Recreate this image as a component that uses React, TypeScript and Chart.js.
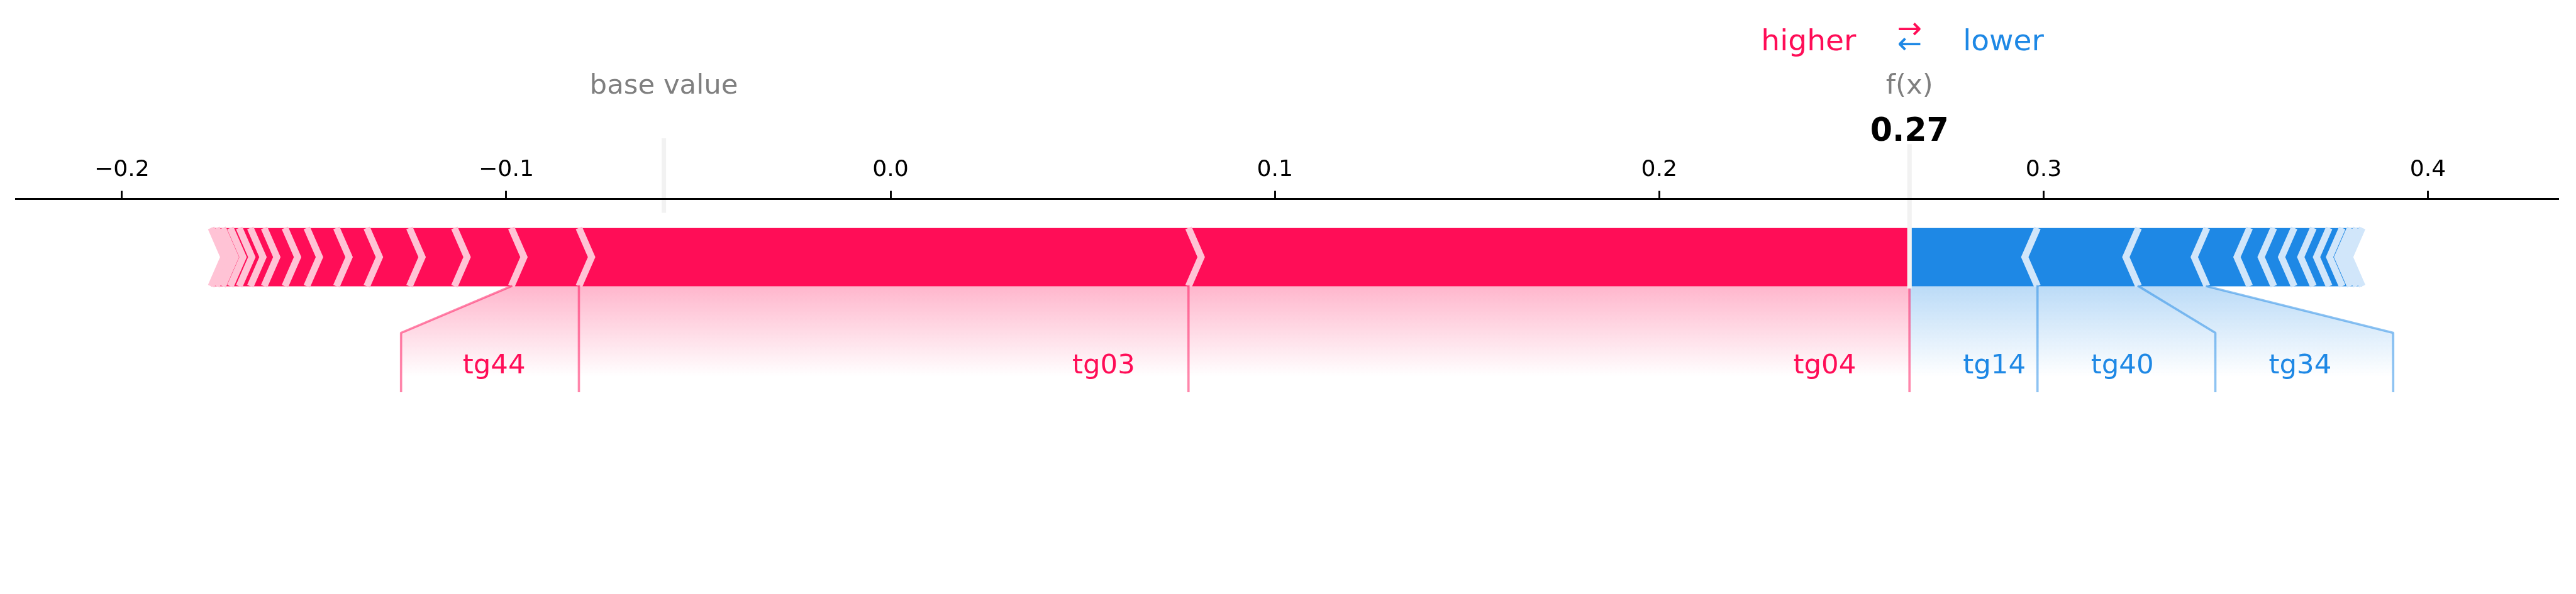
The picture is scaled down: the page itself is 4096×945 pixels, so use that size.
import React, { useEffect, useRef } from "react";
import { Chart, registerables } from "chart.js";

Chart.register(...registerables);

// ---------- data ----------
const OUT_VALUE = 0.2651;
const POS_LABELS = ["tg04", "tg03", "tg44"];
const POS_EFFECTS = [0.1876, 0.1586, 0.0176, 0.0148, 0.0117, 0.0111, 0.0079, 0.0077, 0.0057, 0.0054, 0.0036, 0.0029, 0.0023, 0.002, 0.0016, 0.0014];
const NEG_LABELS = ["tg14", "tg40", "tg34"];
const NEG_EFFECTS = [0.0333, 0.0263, 0.0178, 0.0111, 0.0063, 0.0053, 0.005, 0.0041, 0.0034, 0.0021, 0.0016, 0.0015];
const TICK_VALUES = [-0.2, -0.1, 0.0, 0.1, 0.2, 0.3, 0.4];

// ---------- layout ----------
const S = 0.869;
const WIDTH = 4096;
const HEIGHT = 945;
const X_MIN = -0.2276;
const X_MAX = 0.434;
const Y_MIN = -0.5;
const Y_MAX = 0.15;
const OFFSET_TEXT = 0.0139;
const BAR_TOP = 0.1;
const AXIS_H = 80;

const RED = "#FF0D57";
const RED_LIGHT = "#FFC3D5";
const BLUE = "#1E88E5";
const BLUE_LIGHT = "#D1E6FA";
const FONT = '"DejaVu Sans", sans-serif';

const TICK_FONT = 41.67 * S;
const LABEL_FONT = 50 * S;
const OUT_FONT = 58.33 * S;
const HL_FONT = 54.17 * S;
const SEP_LW = 12.5 * S;
const CONN_LW = 4.167 * S;
const ELEM_LW = 8.33 * S;
const SPINE_LW = 3.33 * S;
const TICK_LEN = 14.58 * S;
const BOX_PAD = 15 * S;

function cumulative(effects: number[], sign: number): number[] {
  const b = [OUT_VALUE];
  let v = OUT_VALUE;
  for (const e of effects) {
    v = v - sign * e;
    b.push(v);
  }
  return b;
}
const POS_BOUNDS = cumulative(POS_EFFECTS, 1);
const NEG_BOUNDS = cumulative(NEG_EFFECTS, -1);
const sum = (a: number[]) => a.reduce((s, v) => s + v, 0);
const BASE_VALUE = OUT_VALUE - sum(POS_EFFECTS) + sum(NEG_EFFECTS);

function tracePath(ctx: any, pts: number[][], close: boolean) {
  ctx.beginPath();
  pts.forEach(([x, y], i) => (i ? ctx.lineTo(x, y) : ctx.moveTo(x, y)));
  if (close) ctx.closePath();
}

function drawBars(ctx: any, px: any, py: any, bounds: number[], sign: number, fill: string, sepColor: string) {
  const ind = (sign * (X_MAX - X_MIN)) / 200;
  const top = BAR_TOP;
  const mid = BAR_TOP / 2;
  const polys: number[][][] = [];
  const seps: number[][][] = [];
  for (let i = 0; i < bounds.length - 1; i++) {
    const left = sign > 0 ? bounds[i + 1] : bounds[i];
    const right = sign > 0 ? bounds[i] : bounds[i + 1];
    let pts: number[][];
    if (i === 0) {
      pts = sign > 0
        ? [[left, 0], [right, 0], [right, top], [left, top], [left + ind, mid]]
        : [[right, 0], [left, 0], [left, top], [right, top], [right + ind, mid]];
    } else {
      pts = [[left, 0], [right, 0], [right + ind * 0.9, mid], [right, top], [left, top], [left + ind * 0.9, mid]];
    }
    polys.push(pts.map(([x, y]) => [px(x), py(y)]));
    const sp = sign > 0 ? left : right;
    seps.push([[sp, 0], [sp + ind, mid], [sp, top]].map(([x, y]) => [px(x), py(y)]));
  }
  ctx.fillStyle = fill;
  polys.forEach((p) => {
    tracePath(ctx, p, true);
    ctx.fill();
  });
  ctx.strokeStyle = sepColor;
  ctx.lineWidth = SEP_LW;
  ctx.lineJoin = "miter";
  ctx.lineCap = "butt";
  seps.forEach((p) => {
    tracePath(ctx, p, false);
    ctx.stroke();
  });
}

function computeLabels(chart: any, sign: number, bounds: number[], labels: string[]) {
  const { ctx } = chart;
  const xs = chart.scales.x;
  const ys = chart.scales.y;
  const px = (v: number) => xs.getPixelForValue(v);
  const py = (v: number) => ys.getPixelForValue(v);
  const out = px(OUT_VALUE);
  const off = px(OUT_VALUE + OFFSET_TEXT) - out;
  const y0 = py(0), y08 = py(-0.08), y18 = py(-0.18), y20 = py(-0.2);
  let start = out;
  let boxEnd = out;
  let preVal = out;
  const texts: any[] = [];
  const lines: number[][][] = [];
  if (sign > 0) lines.push([[out, y0], [out, y18]]);
  ctx.save();
  ctx.font = `${LABEL_FONT}px ${FONT}`;
  for (let i = 0; i < labels.length; i++) {
    const val = px(bounds[i + 1]);
    const tx = start - sign * off;
    const w = ctx.measureText(labels[i]).width;
    texts.push({ text: labels[i], x: tx, y: py(-0.15), align: sign > 0 ? "right" : "left" });
    const edge = sign > 0 ? tx - w - BOX_PAD : tx + w + BOX_PAD;
    if (sign * edge > sign * val) {
      lines.push([[val, y0], [val, y18]]);
      start = val;
      boxEnd = val;
    } else {
      boxEnd = edge - sign * off;
      lines.push([[val, y0], [boxEnd, y08], [boxEnd, y18]]);
      start = boxEnd;
    }
    preVal = val;
  }
  ctx.restore();
  const shade = [[out, y0], [preVal, y0], [boxEnd, y08], [boxEnd, y20], [out, y20]];
  return { texts, lines, shade };
}

const forcePlugin = {
  id: "forcePlot",
  beforeDraw(chart: any) {
    const { ctx } = chart;
    const xs = chart.scales.x;
    const ys = chart.scales.y;
    const px = (v: number) => xs.getPixelForValue(v);
    const py = (v: number) => ys.getPixelForValue(v);
    const pos = computeLabels(chart, 1, POS_BOUNDS, POS_LABELS);
    const neg = computeLabels(chart, -1, NEG_BOUNDS, NEG_LABELS);
    chart.$force = { pos, neg };
    ctx.save();
    // shading
    [
      [pos, "255,13,87"],
      [neg, "30,136,229"],
    ].forEach(([side, rgb]: any) => {
      const g = ctx.createLinearGradient(0, py(0), 0, py(-0.155));
      g.addColorStop(0, `rgba(${rgb},0.3)`);
      g.addColorStop(1, `rgba(${rgb},0)`);
      ctx.fillStyle = g;
      tracePath(ctx, side.shade, true);
      ctx.fill();
    });
    // bars
    drawBars(ctx, px, py, POS_BOUNDS, 1, RED, RED_LIGHT);
    drawBars(ctx, px, py, NEG_BOUNDS, -1, BLUE, BLUE_LIGHT);
    // connector lines
    ctx.lineWidth = CONN_LW;
    ctx.lineCap = "square";
    ctx.lineJoin = "round";
    ctx.strokeStyle = "rgba(255,13,87,0.5)";
    pos.lines.forEach((l: number[][]) => {
      tracePath(ctx, l, false);
      ctx.stroke();
    });
    ctx.strokeStyle = "rgba(30,136,229,0.5)";
    neg.lines.forEach((l: number[][]) => {
      tracePath(ctx, l, false);
      ctx.stroke();
    });
    // base value and output lines
    ctx.strokeStyle = "#F2F2F2";
    ctx.lineWidth = ELEM_LW;
    tracePath(ctx, [[px(BASE_VALUE), py(0.13)], [px(BASE_VALUE), py(0.25)]], false);
    ctx.stroke();
    tracePath(ctx, [[px(OUT_VALUE), py(0)], [px(OUT_VALUE), py(0.24)]], false);
    ctx.stroke();
    ctx.restore();
  },
  afterDraw(chart: any) {
    const { ctx } = chart;
    const xs = chart.scales.x;
    const ys = chart.scales.y;
    const px = (v: number) => xs.getPixelForValue(v);
    const py = (v: number) => ys.getPixelForValue(v);
    const { pos, neg } = chart.$force || {};
    ctx.save();
    ctx.textBaseline = "alphabetic";
    ctx.font = `${LABEL_FONT}px ${FONT}`;
    if (pos) {
      ctx.fillStyle = RED;
      pos.texts.forEach((t: any) => {
        ctx.textAlign = t.align;
        ctx.fillText(t.text, t.x, t.y);
      });
    }
    if (neg) {
      ctx.fillStyle = BLUE;
      neg.texts.forEach((t: any) => {
        ctx.textAlign = t.align;
        ctx.fillText(t.text, t.x, t.y);
      });
    }
    // base value
    ctx.fillStyle = "rgba(0,0,0,0.5)";
    ctx.textAlign = "center";
    ctx.fillText("base value", px(BASE_VALUE), py(0.33));
    ctx.fillText("f(x)", px(OUT_VALUE), py(0.33));
    ctx.fillStyle = "#000";
    ctx.font = `bold ${OUT_FONT}px ${FONT}`;
    ctx.fillText(OUT_VALUE.toFixed(2), px(OUT_VALUE), py(0.25));
    // higher / lower
    const out = px(OUT_VALUE);
    const off = px(OUT_VALUE + OFFSET_TEXT) - out;
    ctx.font = `${HL_FONT}px ${FONT}`;
    ctx.fillStyle = RED;
    ctx.textAlign = "right";
    ctx.fillText("higher", out - off, py(0.405));
    ctx.fillStyle = BLUE;
    ctx.textAlign = "left";
    ctx.fillText("lower", out + off, py(0.405));
    ctx.textAlign = "center";
    ctx.fillStyle = BLUE;
    ctx.fillText("\u2190", out, py(0.4));
    ctx.fillStyle = RED;
    ctx.fillText("\u2192", out, py(0.425));
    ctx.restore();
  },
};

export default function App() {
  const ref = useRef<HTMLCanvasElement | null>(null);
  useEffect(() => {
    if (!ref.current) return;
    const chart = new Chart(ref.current, {
      type: "scatter",
      data: { datasets: [{ data: [] }] },
      options: {
        responsive: false,
        animation: false,
        devicePixelRatio: 1,
        events: [],
        layout: {
          padding: { left: 29 * S, right: WIDTH - 4681.7 * S, top: 364 * S - AXIS_H, bottom: HEIGHT - 1057.5 * S },
        },
        plugins: { legend: { display: false }, tooltip: { enabled: false }, title: { display: false } },
        scales: {
          x: {
            type: "linear",
            position: "top",
            min: X_MIN,
            max: X_MAX,
            afterBuildTicks: (s: any) => {
              s.ticks = TICK_VALUES.map((v) => ({ value: v }));
            },
            afterFit: (s: any) => {
              s.height = AXIS_H;
            },
            grid: {
              drawOnChartArea: false,
              drawTicks: true,
              tickLength: TICK_LEN,
              tickWidth: SPINE_LW,
              tickColor: "#000",
            },
            border: { display: true, color: "#000", width: SPINE_LW },
            ticks: {
              color: "#000",
              font: { family: "DejaVu Sans", size: TICK_FONT },
              padding: 11.1,
              maxRotation: 0,
              autoSkip: false,
              includeBounds: false,
              callback: (v: any) => {
                const n = Number(v);
                if (Math.abs(n) < 1e-9) return "0.0";
                return n.toFixed(1).replace("-", "\u2212");
              },
            },
          },
          y: { type: "linear", display: false, min: Y_MIN, max: Y_MAX },
        },
      } as any,
      plugins: [forcePlugin as any],
    });
    return () => chart.destroy();
  }, []);
  return (
    <div style={{ position: "absolute", left: 0, top: 0, width: WIDTH, height: HEIGHT, background: "#fff" }}>
      <canvas ref={ref} width={WIDTH} height={HEIGHT} style={{ width: WIDTH, height: HEIGHT, display: "block" }} />
    </div>
  );
}
